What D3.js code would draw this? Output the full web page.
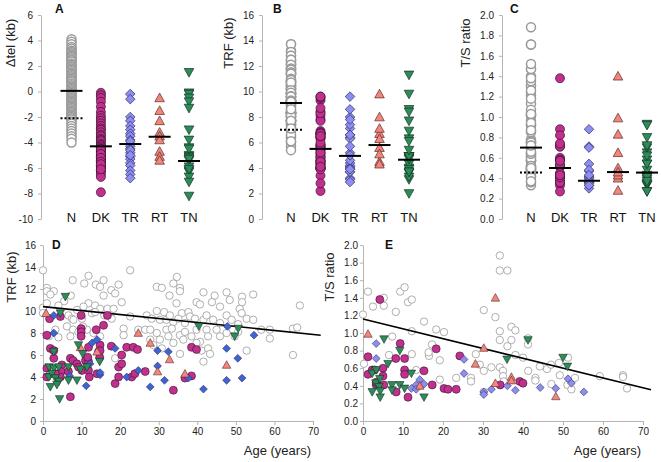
<!DOCTYPE html>
<html>
<head>
<meta charset="utf-8">
<script src="https://cdnjs.cloudflare.com/ajax/libs/d3/7.8.5/d3.min.js"></script>
<style>
  body { margin: 0; background: #fff; }
  svg { font-family: "Liberation Sans", Arial, sans-serif; }
</style>
</head>
<body>
<svg id="chart" width="661" height="462"></svg>
<script>
var groups = ["N", "DK", "TR", "RT", "TN"];

// panel D : [age (years), TRF (kb)]
var nTRF = [[0,13.7],[11.8,13.2],[22.6,13.7],[34.7,13.1],[7.7,12.8],[15.7,12.8],[1,12.1],[1,11.8],[2.8,11.8],[10.7,12.5],
  [13.7,12.4],[14.8,12.2],[17.7,11.9],[19.6,12.4],[18.7,11.6],[29.5,12.2],[30.8,12.1],[33.8,12.5],[35.5,12.1],[35.5,11.8],
  [32.8,11.4],[41.6,11.7],[47.6,11.7],[54.5,11.5],[51.6,11.3],[44.5,11.4],[7.2,11.4],[1.9,11.5],[15.7,11.4],[0,10.3],
  [0,9.8],[39.8,10.8],[40.7,10.6],[43.8,10.8],[45.9,10.4],[48.4,11.0],[51.6,10.8],[51,10.2],[51.5,9.8],[66.6,10.5],
  [29.5,10.0],[31.4,9.9],[34.6,10.7],[36,9.8],[37.7,9.9],[20.4,10.8],[11.8,10.7],[10.5,10.4],[13.5,10.5],[14.8,10.2],
  [16.7,10.2],[18.3,10.2],[5.5,10.9],[4,10.5],[1,10.7],[8.8,10.1],[6.6,9.6],[7.5,9.3],[10.1,9.3],[12.7,9.8],
  [13.5,9.9],[15.9,9.6],[17.8,9.3],[22.6,9.5],[26.9,9.6],[28.2,9.3],[30.3,9.2],[32,9.2],[32.9,9.6],[33.8,9.0],
  [35.1,9.3],[36.8,8.9],[38.1,9.5],[39.4,9.3],[41.6,9.2],[42.4,9.6],[44.1,9.2],[45.9,8.9],[47.6,9.6],[48.9,9.2],
  [50.6,8.8],[52.8,9.3],[54.5,9.2],[56.6,8.3],[58.8,8.3],[58.8,7.5],[64.8,8.4],[65.9,8.5],[64.8,6.0],[52.8,6.4],
  [6.2,8.6],[7.9,9.2],[7.8,8.3],[7.1,7.7],[9.2,8.1],[1.5,7.7],[4,7.6],[3.2,8.3],[11.4,8.3],[13.1,8.0],
  [14.8,7.7],[20.9,8.4],[20.9,7.8],[18.7,5.7],[24.7,8.3],[26.5,8.3],[27.8,8.3],[27.8,7.4],[29.5,8.0],[30.3,7.4],
  [32,8.3],[32.5,7.7],[33.4,8.4],[33.8,7.1],[35.5,7.8],[36.4,7.4],[36.8,8.1],[38.5,7.7],[39.8,8.3],[40.7,7.2],
  [41.1,6.4],[42.4,8.3],[42.8,7.7],[41.6,5.4],[42.8,6.6],[43.3,6.1],[45,8.3],[45.9,7.7],[47.6,8.0],[49.3,8.3],
  [50.6,8.1],[49.7,7.7],[28.6,6.9],[30.8,6.6],[35.5,6.1],[39.8,7.1],[10.3,8.6]];
var dkTRF = [[7.1,2.2],[1,4.0],[1,4.8],[1,7.8],[1.7,9.3],[1.9,6.6],[2.8,5.7],[2.8,6.4],[4.5,9.5],[4.9,5.1],
  [4.7,4.5],[4.5,4.0],[3.2,4.3],[6.6,4.5],[7.1,5.7],[7.8,5.5],[8.8,5.2],[9.2,4.9],[9.9,9.6],[9.9,8.4],
  [9.9,8.1],[9.9,7.7],[10.1,4.6],[11,5.5],[11.8,5.4],[11.8,4.6],[12,4.0],[11.8,6.7],[11.6,5.8],[13.8,8.3],
  [14.4,6.3],[14.7,5.8],[14.8,6.9],[14.8,6.4],[14,4.3],[15.7,8.7],[16.7,9.6],[17.7,6.8],[18.7,3.4],[19.6,4.0],
  [19.6,4.9],[20.4,5.2],[20.4,6.0],[21.7,6.7],[23,4.0],[23.8,4.3],[23.4,6.7],[24.5,6.5],[26.5,4.5],[33.8,2.8],
  [36.8,3.9],[38.5,4.1],[38.5,6.7],[39.8,6.5]];
var trTRF = [[2.8,9.6],[2.8,8.0],[6.9,4.1],[11.2,3.2],[12.2,5.2],[12.7,7.1],[14,7.4],[14.8,4.2],[14.8,4.4],[18.7,6.6],
  [21.7,4.0],[24.7,4.6],[27.8,3.1],[29.7,6.4],[29.7,5.0],[31.5,3.7],[32.5,6.3],[37.7,3.9],[41.6,2.9],[47.6,6.6],
  [47.6,3.7],[47.8,8.6],[50.5,5.7],[51.6,3.9],[54.7,7.8]];
var rtTRF = [[0.8,9.8],[9.7,6.7],[14,6.3],[24.7,8.0],[27.8,7.1],[29.7,4.5],[32.8,5.6],[36.8,4.3],[47.6,5.1]];
var tnTRF = [[5.8,11.3],[4.5,9.8],[1.6,4.9],[1.5,4.0],[1.9,3.1],[2.8,4.8],[2.3,4.3],[3.2,3.9],[2.8,6.3],[4.1,4.9],
  [4.1,3.6],[3.6,3.3],[4.3,2.0],[6.6,4.9],[6.6,3.7],[8.8,3.7],[9.2,6.9],[9.7,4.7],[10.3,6.1],[11.4,4.9],
  [14.7,5.4],[40.4,8.6],[49.7,7.7],[50.6,8.4]];

// panel E : [age (years), T/S ratio]
var nTS = [[0,1.21],[0.25,0.65],[1.25,1.47],[2.5,1.30],[5.2,1.40],[5.2,1.31],[8.2,1.24],[9.3,1.47],[10.4,1.52],[11.25,1.35],
  [12.2,1.38],[12.2,1.02],[7.3,0.96],[6.5,0.75],[12.2,0.76],[13.3,0.58],[15.25,1.13],[16.5,0.74],[16.4,0.78],[17.25,0.87],
  [18.3,1.04],[19.2,0.69],[19.2,0.47],[20.25,1.01],[23.3,0.49],[27,0.49],[27,0.45],[28.2,0.76],[29.2,0.64],[30.2,1.26],
  [30.2,0.57],[30.2,0.33],[32.1,0.61],[33.1,1.18],[34.2,1.88],[34.2,1.71],[36.1,1.71],[34.2,1.02],[34.2,0.92],[34.2,0.61],
  [35,0.57],[35,0.51],[35.2,0.45],[36.1,0.85],[37.1,1.07],[37.1,0.92],[38.1,1.03],[38.1,0.75],[40,0.72],[41.25,0.94],
  [41.25,0.87],[41.3,0.57],[43.1,0.49],[43.1,0.46],[44.2,0.62],[46,0.59],[47.1,0.42],[47,0.64],[49.2,0.52],[49,0.66],
  [51.25,0.72],[51.1,0.41],[52.1,0.36],[53,0.49],[59.2,0.51],[65,0.52],[65,0.50],[66,0.37]];
var dkTS = [[1.25,0.73],[1.25,0.53],[2.3,0.58],[4.2,1.38],[5,0.60],[5,0.51],[5.2,0.41],[3.3,0.41],[3.3,0.44],[2.9,0.58],
  [8.3,0.33],[8.2,0.71],[9.3,0.88],[10.4,0.71],[10.4,0.58],[10.4,0.53],[11.25,0.27],[15.25,0.57],[17.3,0.41],[18.3,0.82],
  [20.25,0.37],[21.25,0.36],[23.3,0.36],[24.2,0.74],[34.3,0.41],[39.2,0.45],[40,0.43]];
var trTS = [[3.3,0.88],[3.3,0.71],[12.1,0.37],[13.3,0.41],[13.3,0.36],[14.2,0.47],[15.25,0.42],[25.25,0.70],[25.25,0.54],[30.2,0.33],
  [30.2,0.30],[32.1,0.36],[36.1,0.40],[38.1,0.35],[44.3,0.38],[48.2,0.37],[51.25,0.48],[52.1,0.43],[55.2,0.33]];
var rtTS = [[1.25,0.99],[14.2,0.40],[28.1,0.65],[30.2,0.83],[33.1,1.40],[33.1,0.43],[37.1,0.50],[37.1,0.46],[48.2,0.28]];
var tnTS = [[2.3,0.33],[2.3,0.54],[3.3,0.58],[3.2,0.43],[4.2,0.48],[4,0.39],[4.3,0.34],[4.3,0.27],[5.25,0.93],[6.25,0.65],
  [7.25,0.41],[7.25,0.35],[9.2,0.80],[9.2,0.41],[10.4,0.37],[12.1,0.54],[15.25,0.27],[36,0.70],[41.25,0.92],[50,0.72],
  [51.1,0.62]];

// panel A : delta tel (kb)
var nDtel = [4.1,3.9,3.7,3.5,3.35,3.2,3.1,3.0,2.9,2.8,2.7,2.6,2.5,2.45,2.35,2.2,2.1,2.0,1.9,1.8,1.7,1.6,1.5,1.4,1.3,
  1.2,1.1,1.0,0.9,0.8,0.75,0.6,0.5,0.4,0.3,0.2,0.1,0.0,-0.1,-0.2,-0.3,-0.4,-0.5,-0.6,-0.7,-0.8,-0.9,-1.0,-1.1,-1.2,
  -1.3,-1.4,-1.5,-1.6,-1.7,-1.8,-1.9,-2.0,-2.1,-2.2,-2.35,-2.5,-2.7,-2.9,-3.1,-3.3,-3.5,-3.7,-4.0];
var dkDtel = [-0.1,-0.3,-0.5,-0.8,-1.2,-1.6,-1.9,-2.1,-2.3,-2.5,-2.7,-2.9,-3.0,-3.2,-3.4,-3.5,-3.7,-3.8,-3.9,-4.1,
  -4.2,-4.3,-4.4,-4.5,-4.6,-4.7,-4.8,-4.9,-5.0,-5.1,-5.2,-5.3,-5.4,-5.5,-5.6,-5.7,-5.8,-5.9,-6.0,-6.2,
  -6.3,-6.5,-6.7,-7.9,-4.5,-4.9,-5.2,-5.5,-5.7,-6.1];
var trDtel = [-0.2,-0.6,-2.0,-2.3,-2.7,-3.0,-3.3,-3.5,-3.8,-4.1,-4.3,-4.5,-4.8,-5.1,-5.3,-5.6,-5.8,-6.2,-6.5,-6.8,-3.9,-4.6,-5.0];
var rtDtel = [-0.5,-1.5,-2.3,-3.2,-3.5,-3.8,-4.7,-5.1,-5.4];
var tnDtel = [1.5,-0.1,-0.2,-0.5,-0.8,-1.3,-3.0,-3.8,-4.4,-5.0,-5.1,-5.2,-5.4,-5.9,-6.2,-6.3,-6.7,-7.1,-8.2,-5.3,-6.1,-4.5];

// group means (solid) and the dotted reference for N
var meanDtel = [0.05, -4.3, -4.12, -3.55, -5.45], refDtel = -2.1;
var meanTRF = [9.1, 5.5, 4.95, 5.8, 4.65], refTRF = 7.0;
var meanTS = [0.70, 0.50, 0.375, 0.46, 0.455], refTS = 0.455;

// regression lines in D and E
var trendTRF = [[0, 10.4], [72, 7.8]];
var trendTS = [[0, 1.16], [72, 0.355]];

var svg = d3.select("#chart");

var styles = {
  N:  {shape: "circle",  fill: "#fff",    stroke: "#9a9a9a"},
  DK: {shape: "circle",  fill: "#c0308c", stroke: "#3a1230"},
  TR: {shape: "diamond", fill: "#8e8ef2", stroke: "#2e2e5a"},
  RT: {shape: "up",      fill: "#f2857c", stroke: "#5a2a26"},
  TN: {shape: "down",    fill: "#2e8b5a", stroke: "#143322"}
};

function shapePath(kind, s) {
  if (kind == "circle") return "M" + (-s) + ",0A" + s + "," + s + " 0 1,0 " + s + ",0A" + s + "," + s + " 0 1,0 " + (-s) + ",0Z";
  if (kind == "diamond") return "M0," + (-s) + "L" + s + ",0L0," + s + "L" + (-s) + ",0Z";
  if (kind == "up") return "M0," + (-s) + "L" + s + "," + (s * 0.8) + "L" + (-s) + "," + (s * 0.8) + "Z";
  return "M0," + s + "L" + s + "," + (-s * 0.8) + "L" + (-s) + "," + (-s * 0.8) + "Z";
}

function styleAxis(g) {
  g.select(".domain").attr("stroke", "#b4b4b4");
  g.selectAll(".tick line").attr("stroke", "#b4b4b4");
  g.selectAll(".tick text").attr("fill", "#222").attr("font-size", "10px")
    .attr("font-family", "Liberation Sans, Arial, sans-serif");
}

function yTitle(text, x, y) {
  svg.append("text")
    .attr("transform", "translate(" + x + "," + y + ") rotate(-90)")
    .attr("text-anchor", "middle")
    .attr("font-size", "13px")
    .attr("fill", "#222")
    .text(text);
}

function letter(text, x, y) {
  svg.append("text").attr("x", x).attr("y", y)
    .attr("font-size", "12px").attr("font-weight", "bold").attr("fill", "#111")
    .text(text);
}

function dotPanel(cfg) {
  var y = d3.scaleLinear().domain(cfg.domain).range([219, 15]);
  var x = d3.scalePoint().domain(groups).range(cfg.catRange);

  var ax = d3.axisLeft(y).ticks(cfg.ticks).tickSize(3).tickSizeOuter(0).tickPadding(5);
  if (cfg.format) ax.tickFormat(d3.format(cfg.format));
  else ax.tickFormat(function(d) { return String(d).replace("\u2212", "-"); });
  svg.append("g").attr("transform", "translate(" + cfg.axisX + ",0)").call(ax).call(styleAxis);

  groups.forEach(function(gname, i) {
    var st = styles[gname];
    var r = st.shape == "circle" ? 4.5 : 4.8;
    svg.append("g").selectAll("path").data(cfg.series[i]).enter()
      .append("path")
      .attr("d", shapePath(st.shape, r))
      .attr("transform", function(d) { return "translate(" + x(gname) + "," + y(d) + ")"; })
      .attr("fill", st.fill)
      .attr("stroke", st.stroke)
      .attr("stroke-width", gname == "N" ? 1.5 : 0.7);
  });

  // means
  svg.append("g").selectAll("line").data(cfg.means).enter()
    .append("line")
    .attr("x1", function(d, i) { return x(groups[i]) - 11; })
    .attr("x2", function(d, i) { return x(groups[i]) + 11; })
    .attr("y1", function(d) { return y(d); })
    .attr("y2", function(d) { return y(d); })
    .attr("stroke", "#000").attr("stroke-width", 2);
  svg.append("line")
    .attr("x1", x("N") - 11).attr("x2", x("N") + 11)
    .attr("y1", y(cfg.ref)).attr("y2", y(cfg.ref))
    .attr("stroke", "#000").attr("stroke-width", 2).attr("stroke-dasharray", "2,2");

  svg.append("g").selectAll("text").data(groups).enter()
    .append("text")
    .attr("x", function(d) { return x(d); })
    .attr("y", 222)
    .attr("text-anchor", "middle")
    .attr("font-size", "13px")
    .attr("fill", "#111")
    .text(function(d) { return d; });

  yTitle(cfg.title, cfg.titleX, 43);
  letter(cfg.letter, cfg.letterX, 13);
}

function scatterPanel(cfg) {
  var x = d3.scaleLinear().domain([0, 70]).range(cfg.xRange);
  var y = d3.scaleLinear().domain(cfg.domain).range([421, 245]);

  var ax = d3.axisBottom(x).ticks(7).tickSize(4).tickSizeOuter(0).tickPadding(3);
  svg.append("g").attr("transform", "translate(0,421)").call(ax).call(styleAxis);
  var ay = d3.axisLeft(y).ticks(cfg.ticks).tickSize(3).tickSizeOuter(0).tickPadding(cfg.pad);
  if (cfg.format) ay.tickFormat(d3.format(cfg.format));
  svg.append("g").attr("transform", "translate(" + cfg.xRange[0] + ",0)").call(ay).call(styleAxis);

  var line = d3.line().x(function(d) { return x(d[0]); }).y(function(d) { return y(d[1]); });

  function drawGroup(gname, data, fill) {
    var st = styles[gname];
    var r = gname == "N" ? 3.7 : (st.shape == "circle" ? 4 : (st.shape == "diamond" ? 3.9 : 4.2));
    svg.append("g").selectAll("path").data(data).enter()
      .append("path")
      .attr("d", shapePath(st.shape, r))
      .attr("transform", function(d) { return "translate(" + x(d[0]) + "," + y(d[1]) + ")"; })
      .attr("fill", fill || st.fill)
      .attr("stroke", st.stroke)
      .attr("stroke-width", gname == "N" ? 0.8 : 0.6);
  }

  drawGroup("N", cfg.series[0]);
  svg.append("path").datum(cfg.trend).attr("d", line)
    .attr("fill", "none").attr("stroke", "#000").attr("stroke-width", 1.6);
  drawGroup("DK", cfg.series[1]);
  drawGroup("TR", cfg.series[2], cfg.trFill);
  drawGroup("RT", cfg.series[3]);
  drawGroup("TN", cfg.series[4]);

  svg.append("text").attr("x", cfg.xRange[1] - 2).attr("y", 455)
    .attr("text-anchor", "end").attr("font-size", "13px").attr("fill", "#222")
    .text("Age (years)");
  yTitle(cfg.title, cfg.titleX, 277);
  letter(cfg.letter, cfg.letterX, 249);
}

function second(d) { return d[1]; }

dotPanel({domain: [-10, 6], ticks: 8, axisX: 41, catRange: [71.5, 189],
  series: [nDtel, dkDtel, trDtel, rtDtel, tnDtel], means: meanDtel, ref: refDtel,
  title: "\u0394tel (kb)", titleX: 15, letter: "A", letterX: 55});

dotPanel({domain: [0, 16], ticks: 8, axisX: 262, catRange: [291, 409],
  series: [nTRF.map(second), dkTRF.map(second), trTRF.map(second), rtTRF.map(second), tnTRF.map(second)],
  means: meanTRF, ref: refTRF,
  title: "TRF (kb)", titleX: 233, letter: "B", letterX: 273});

dotPanel({domain: [0, 2], ticks: 10, format: ".1f", axisX: 502, catRange: [531, 647],
  series: [nTS.map(second), dkTS.map(second), trTS.map(second), rtTS.map(second), tnTS.map(second)],
  means: meanTS, ref: refTS,
  title: "T/S ratio", titleX: 470, letter: "C", letterX: 510});

scatterPanel({domain: [0, 16], ticks: 8, pad: 4, xRange: [43, 313],
  series: [nTRF, dkTRF, trTRF, rtTRF, tnTRF], trend: trendTRF, trFill: "#3d63d4",
  title: "TRF (kb)", titleX: 16, letter: "D", letterX: 52});

scatterPanel({domain: [0, 2], ticks: 10, format: ".1f", pad: 2, xRange: [363, 643],
  series: [nTS, dkTS, trTS, rtTS, tnTS], trend: trendTS,
  title: "T/S ratio", titleX: 334, letter: "E", letterX: 385});
</script>
</body>
</html>
